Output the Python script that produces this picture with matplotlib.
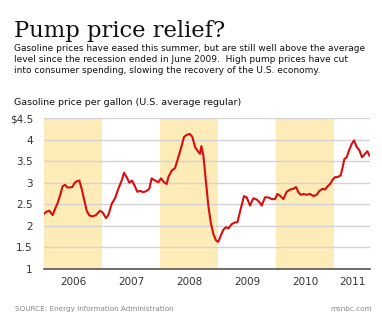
import numpy as np
import matplotlib
matplotlib.use('Agg')
import matplotlib.pyplot as plt

# Цены на бензин (дробный год, $ за галлон)
dates = [
    2006.000, 2006.046, 2006.092, 2006.149, 2006.190, 2006.230, 2006.276, 2006.322,
    2006.362, 2006.402, 2006.448, 2006.489, 2006.529, 2006.575, 2006.609, 2006.649,
    2006.690, 2006.736, 2006.782, 2006.839, 2006.897, 2006.966,
    2007.011, 2007.069, 2007.109, 2007.167, 2007.224, 2007.282, 2007.339, 2007.379,
    2007.425, 2007.471, 2007.517, 2007.563, 2007.609, 2007.655, 2007.713, 2007.770,
    2007.816, 2007.856, 2007.914, 2007.971,
    2008.017, 2008.069, 2008.115, 2008.144, 2008.201, 2008.259, 2008.316, 2008.374,
    2008.414, 2008.460, 2008.517, 2008.557, 2008.603, 2008.661, 2008.690, 2008.713,
    2008.747, 2008.793, 2008.833, 2008.874, 2008.920, 2008.966,
    2009.006, 2009.046, 2009.092, 2009.138, 2009.178, 2009.236, 2009.293, 2009.333,
    2009.391, 2009.448, 2009.494, 2009.552, 2009.609, 2009.667, 2009.713, 2009.753,
    2009.810, 2009.868, 2009.925, 2009.983,
    2010.023, 2010.069, 2010.126, 2010.184, 2010.241, 2010.299, 2010.345, 2010.385,
    2010.425, 2010.471, 2010.529, 2010.586, 2010.644, 2010.701, 2010.747, 2010.805,
    2010.845, 2010.891, 2010.931, 2010.977,
    2011.017, 2011.057, 2011.115, 2011.149, 2011.178, 2011.218, 2011.259, 2011.305,
    2011.345, 2011.391, 2011.437, 2011.483, 2011.534, 2011.575, 2011.609,
]
prices = [
    2.28, 2.33, 2.35, 2.25, 2.39, 2.51, 2.70, 2.92,
    2.95, 2.89, 2.89, 2.90, 3.00, 3.04, 3.05, 2.86,
    2.62, 2.35, 2.24, 2.22, 2.25, 2.35,
    2.31, 2.18, 2.25, 2.51, 2.64, 2.86, 3.05, 3.23,
    3.13, 3.00, 3.05, 2.93, 2.79, 2.81, 2.78, 2.81,
    2.86, 3.10, 3.05, 3.01,
    3.10, 3.01, 2.97, 3.13, 3.28, 3.34, 3.59, 3.86,
    4.06, 4.11, 4.13, 4.06, 3.83, 3.71, 3.67, 3.85,
    3.63, 3.01, 2.47, 2.08, 1.81, 1.66,
    1.63, 1.77, 1.91, 1.97, 1.94, 2.04, 2.08, 2.08,
    2.39, 2.69, 2.66, 2.47, 2.64, 2.61, 2.55, 2.47,
    2.66, 2.66, 2.62, 2.62,
    2.74, 2.70, 2.62, 2.79, 2.84, 2.86, 2.90, 2.78,
    2.72, 2.74, 2.72, 2.74, 2.69, 2.72, 2.81, 2.86,
    2.84, 2.92, 2.97, 3.07,
    3.13, 3.13, 3.17, 3.36, 3.55, 3.59, 3.75, 3.90,
    3.98, 3.83, 3.75, 3.59, 3.67, 3.73, 3.63,
]
years = [2006, 2007, 2008, 2009, 2010, 2011]
shaded_years = [2006, 2008, 2010]
y_ticks = [1, 1.5, 2, 2.5, 3, 3.5, 4, 4.5]
y_labels = ['1', '1.5', '2', '2.5', '3', '3.5', '4', '$4.5']

fig = plt.figure(figsize=(3.82, 3.24), dpi=100)
ax = fig.add_axes([44 / 382, 1 - 269 / 324, 326 / 382, 151 / 324])

x_end = 2011.62
ax.set_xlim(2006, x_end)
ax.set_ylim(1, 4.5)

# жёлтые полосы по чётным годам
for yr in shaded_years:
    ax.axvspan(yr, yr + 1, color='#fdebb8', lw=0, zorder=0)

# горизонтальная сетка
for v in y_ticks[1:]:
    ax.axhline(v, color='#d3d3d3', lw=1.0, zorder=1)

ax.plot(dates, prices, color='#d80e0e', lw=1.5, zorder=3)

for s in ['top', 'right', 'left']:
    ax.spines[s].set_visible(False)
ax.spines['bottom'].set_color('#555555')
ax.spines['bottom'].set_linewidth(1.2)

ax.set_yticks(y_ticks)
ax.set_yticklabels(y_labels)
ax.tick_params(axis='y', length=0, pad=8, labelsize=7.5, labelcolor='#333333')

mids = [min(yr + 0.5, (yr + x_end) / 2) for yr in years]
ax.set_xticks(mids)
ax.set_xticklabels([str(y) for y in years])
ax.tick_params(axis='x', length=0, pad=6, labelsize=7.5, labelcolor='#333333')

# тексты
fig.text(14 / 382, 1 - 37 / 324, 'Pump price relief?', fontsize=16.3,
         family='DejaVu Serif', color='#111111')
sub = ('Gasoline prices have eased this summer, but are still well above the average\n'
       'level since the recession ended in June 2009.  High pump prices have cut\n'
       'into consumer spending, slowing the recovery of the U.S. economy.')
fig.text(14 / 382, 1 - 44 / 324, sub, fontsize=6.5, va='top', color='#111111',
         linespacing=1.3)
fig.text(14 / 382, 1 - 105 / 324, 'Gasoline price per gallon (U.S. average regular)',
         fontsize=6.8, color='#111111')
fig.text(15 / 382, 1 - 311 / 324, 'SOURCE: Energy Information Administration',
         fontsize=5.2, color='#888888')
fig.text(372 / 382, 1 - 311 / 324, 'msnbc.com', fontsize=5.2, color='#888888',
         ha='right')

plt.savefig('out.png', dpi=100)
plt.close(fig)
